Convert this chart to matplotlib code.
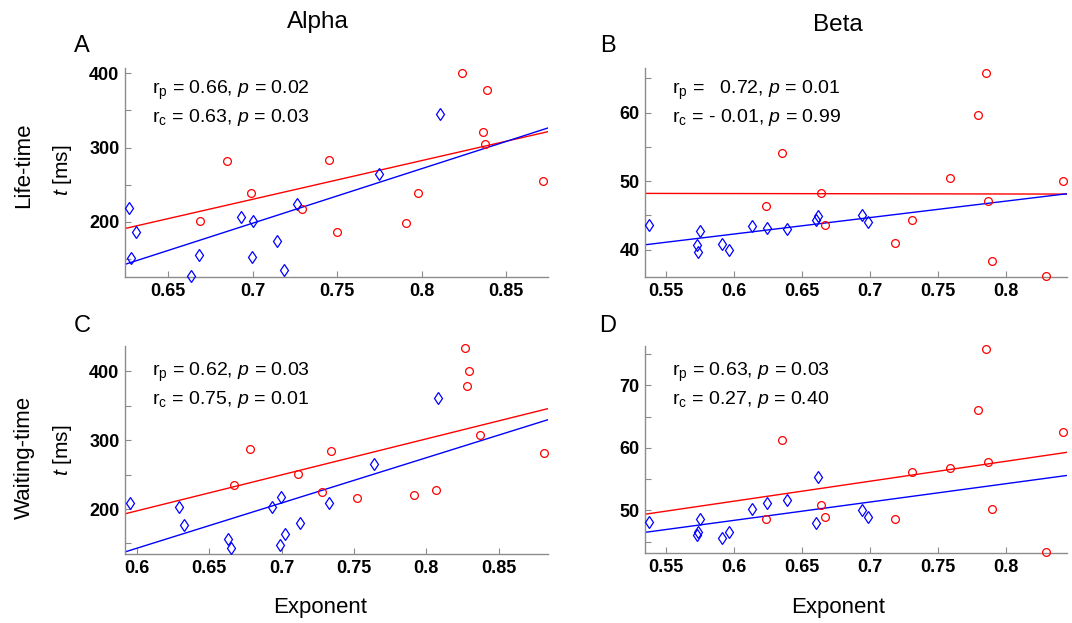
import matplotlib
matplotlib.use("Agg")
import matplotlib.pyplot as plt
import numpy as np

plt.rcParams['font.family'] = ['Liberation Sans', 'DejaVu Sans']
plt.rcParams['mathtext.fontset'] = 'custom'
plt.rcParams['mathtext.rm'] = 'Liberation Sans'
plt.rcParams['mathtext.it'] = 'Liberation Sans:italic'
plt.rcParams['mathtext.bf'] = 'Liberation Sans:bold'

# ---------------- data ----------------
# Panel A (Alpha, life-time)
a_blue_x = [0.6269, 0.6309, 0.6281, 0.6634, 0.6680, 0.6928, 0.7001, 0.6993, 0.7141, 0.7183, 0.7263, 0.7745, 0.8106]
a_blue_y = [218.3, 186.6, 151.4, 127.7, 155.4, 206.7, 201.3, 153.1, 173.8, 135.3, 223.7, 263.9, 344.6]
a_red_x = [0.6847, 0.6689, 0.6991, 0.7449, 0.7289, 0.7500, 0.8240, 0.8386, 0.8362, 0.8376, 0.7976, 0.7906, 0.8719]
a_red_y = [282.2, 201.3, 239.4, 283.5, 217.0, 186.2, 400.0, 377.2, 321.4, 304.4, 238.8, 198.7, 255.4]
a_red_fit = [191.2, 321.4]     # fitted value at left / right x-limit
a_blue_fit = [143.0, 326.4]

# Panel B (Beta, life-time)
b_blue_x = [0.5375, 0.5726, 0.5733, 0.5748, 0.5910, 0.5962, 0.6133, 0.6246, 0.6393, 0.6600, 0.6617, 0.6941, 0.6985]
b_blue_y = [43.6, 40.7, 39.6, 42.7, 40.8, 40.0, 43.4, 43.2, 43.0, 44.3, 44.9, 45.05, 44.0]
b_red_x = [0.6352, 0.6641, 0.6236, 0.6673, 0.7854, 0.7795, 0.7591, 0.8421, 0.7869, 0.7306, 0.7186, 0.7896, 0.8293]
b_red_y = [54.1, 48.3, 46.3, 43.6, 65.7, 59.6, 50.5, 50.0, 47.1, 44.3, 40.9, 38.3, 36.1]
b_red_fit = [48.2, 48.1]
b_blue_fit = [40.7, 48.15]

# Panel C (Alpha, waiting-time)
c_blue_x = [0.5954, 0.6292, 0.6327, 0.6633, 0.6649, 0.6937, 0.6997, 0.6988, 0.7022, 0.7128, 0.7328, 0.7637, 0.8081]
c_blue_y = [208.8, 202.3, 177.5, 156.2, 143.0, 202.3, 218.0, 148.3, 163.5, 180.0, 208.8, 265.7, 362.0]
c_red_x = [0.6780, 0.6674, 0.7112, 0.7340, 0.7278, 0.7524, 0.8267, 0.8295, 0.8281, 0.8373, 0.8811, 0.8067, 0.7913]
c_red_y = [288.0, 235.0, 251.5, 285.1, 225.3, 216.0, 433.6, 400.4, 378.5, 307.4, 282.2, 227.7, 220.9]
c_red_fit = [193.1, 346.0]
c_blue_fit = [137.7, 329.9]

# Panel D (Beta, waiting-time)
d_blue_x = b_blue_x
d_blue_y = [48.1, 46.0, 46.5, 48.6, 45.6, 46.6, 50.3, 51.2, 51.7, 48.0, 55.3, 50.1, 48.9]
d_red_x = b_red_x
d_red_y = [61.2, 50.8, 48.6, 49.0, 75.8, 66.0, 56.8, 62.6, 57.7, 56.2, 48.6, 50.3, 43.3]
d_red_fit = [49.4, 59.3]
d_blue_fit = [46.5, 55.6]

stats_text = {
    'A': ("r$_\\mathregular{p}$ = 0.66, $p$ = 0.02", "r$_\\mathregular{c}$ = 0.63, $p$ = 0.03"),
    'B': ("r$_\\mathregular{p}$ =   0.72, $p$ = 0.01", "r$_\\mathregular{c}$ = - 0.01, $p$ = 0.99"),
    'C': ("r$_\\mathregular{p}$ = 0.62, $p$ = 0.03", "r$_\\mathregular{c}$ = 0.75, $p$ = 0.01"),
    'D': ("r$_\\mathregular{p}$ = 0.63, $p$ = 0.03", "r$_\\mathregular{c}$ = 0.27, $p$ = 0.40"),
}

panels = {
    'A': dict(bx=a_blue_x, by=a_blue_y, rx=a_red_x, ry=a_red_y, rf=a_red_fit, bf=a_blue_fit,
              xlim=(0.6244, 0.8747), ylim=(126, 407),
              xt=[0.65, 0.7, 0.75, 0.8, 0.85], xtl=['0.65', '0.7', '0.75', '0.8', '0.85'],
              yt=[200, 300, 400], ymin=[150, 250, 350]),
    'B': dict(bx=b_blue_x, by=b_blue_y, rx=b_red_x, ry=b_red_y, rf=b_red_fit, bf=b_blue_fit,
              xlim=(0.5345, 0.845), ylim=(36, 66.5),
              xt=[0.55, 0.6, 0.65, 0.7, 0.75, 0.8], xtl=['0.55', '0.6', '0.65', '0.7', '0.75', '0.8'],
              yt=[40, 50, 60], ymin=[45, 55, 65]),
    'C': dict(bx=c_blue_x, by=c_blue_y, rx=c_red_x, ry=c_red_y, rf=c_red_fit, bf=c_blue_fit,
              xlim=(0.5919, 0.884), ylim=(134.7, 437),
              xt=[0.6, 0.65, 0.7, 0.75, 0.8, 0.85], xtl=['0.6', '0.65', '0.7', '0.75', '0.8', '0.85'],
              yt=[200, 300, 400], ymin=[150, 250, 350]),
    'D': dict(bx=d_blue_x, by=d_blue_y, rx=d_red_x, ry=d_red_y, rf=d_red_fit, bf=d_blue_fit,
              xlim=(0.5345, 0.845), ylim=(43.2, 76.3),
              xt=[0.55, 0.6, 0.65, 0.7, 0.75, 0.8], xtl=['0.55', '0.6', '0.65', '0.7', '0.75', '0.8'],
              yt=[50, 60, 70], ymin=[45, 55, 65, 75]),
}

W, H = 1072, 623
fig = plt.figure(figsize=(W / 100, H / 100), dpi=100)

# axes boxes in pixels: left, top, right, bottom
boxes = {'A': (125, 68, 548, 277), 'B': (645, 68, 1067, 277),
         'C': (125, 346, 548, 554), 'D': (645, 346, 1067, 553)}
text_y = {'A': (94.5, 122), 'B': (94.5, 122), 'C': (376, 403.5), 'D': (376, 403.5)}
text_x = {'A': 152.5, 'B': 672.5, 'C': 152.5, 'D': 672.5}

spine_col = '#8c8c8c'
for key, p in panels.items():
    l, t, r, b = boxes[key]
    ax = fig.add_axes([l / W, 1 - b / H, (r - l) / W, (b - t) / H])
    ax.set_xlim(*p['xlim'])
    ax.set_ylim(*p['ylim'])
    xl = np.array(p['xlim'])
    ax.plot(xl, p['rf'], color='red', lw=1.0, zorder=2)
    ax.plot(xl, p['bf'], color='blue', lw=1.0, zorder=2)
    ax.plot(p['rx'], p['ry'], 'o', ms=5.6, mfc='none', mec='red', mew=0.9, zorder=3, clip_on=False)
    ax.plot(p['bx'], p['by'], 'd', ms=6.3, mfc='none', mec='blue', mew=0.9, zorder=3, clip_on=False)
    for s in ['top', 'right']:
        ax.spines[s].set_visible(False)
    for s in ['left', 'bottom']:
        ax.spines[s].set_color(spine_col)
        ax.spines[s].set_linewidth(1.0)
    ax.set_xticks(p['xt'])
    ax.set_xticklabels(p['xtl'])
    ax.set_yticks(p['yt'])
    ax.set_yticklabels([str(v) for v in p['yt']])
    ax.set_yticks(p['ymin'], minor=True)
    ax.tick_params(which='both', direction='in', color=spine_col, width=0.8)
    ax.tick_params(which='major', length=4, labelsize=13, pad=4)
    ax.tick_params(which='minor', length=4)
    for lab in ax.get_xticklabels() + ax.get_yticklabels():
        lab.set_fontweight('bold')
    ty1, ty2 = text_y[key]
    tx = text_x[key]
    fig.text(tx / W, 1 - ty1 / H, stats_text[key][0], fontsize=14, va='baseline', ha='left')
    fig.text(tx / W, 1 - ty2 / H, stats_text[key][1], fontsize=14, va='baseline', ha='left')

# panel letters
for letter, (x, y) in {'A': (82, 46), 'B': (608, 46), 'C': (82, 326), 'D': (608, 326)}.items():
    fig.text(x / W, 1 - y / H, letter, fontsize=17, ha='center', va='center')

fig.text(318 / W, 1 - 22 / H, 'Alpha', fontsize=17.5, ha='center', va='center')
fig.text(838 / W, 1 - 25 / H, 'Beta', fontsize=17.5, ha='center', va='center')
fig.text(320 / W, 1 - 607 / H, 'Exponent', fontsize=16, ha='center', va='center')
fig.text(838 / W, 1 - 607 / H, 'Exponent', fontsize=16, ha='center', va='center')

fig.text(24 / W, 1 - 165 / H, 'Life-time', fontsize=16, rotation=90, ha='center', va='center')
fig.text(62 / W, 1 - 170 / H, '$t$ [ms]', fontsize=15, rotation=90, ha='center', va='center')
fig.text(24 / W, 1 - 457 / H, 'Waiting-time', fontsize=16, rotation=90, ha='center', va='center')
fig.text(62 / W, 1 - 450 / H, '$t$ [ms]', fontsize=15, rotation=90, ha='center', va='center')

fig.savefig('out.png', dpi=100, facecolor='white')
